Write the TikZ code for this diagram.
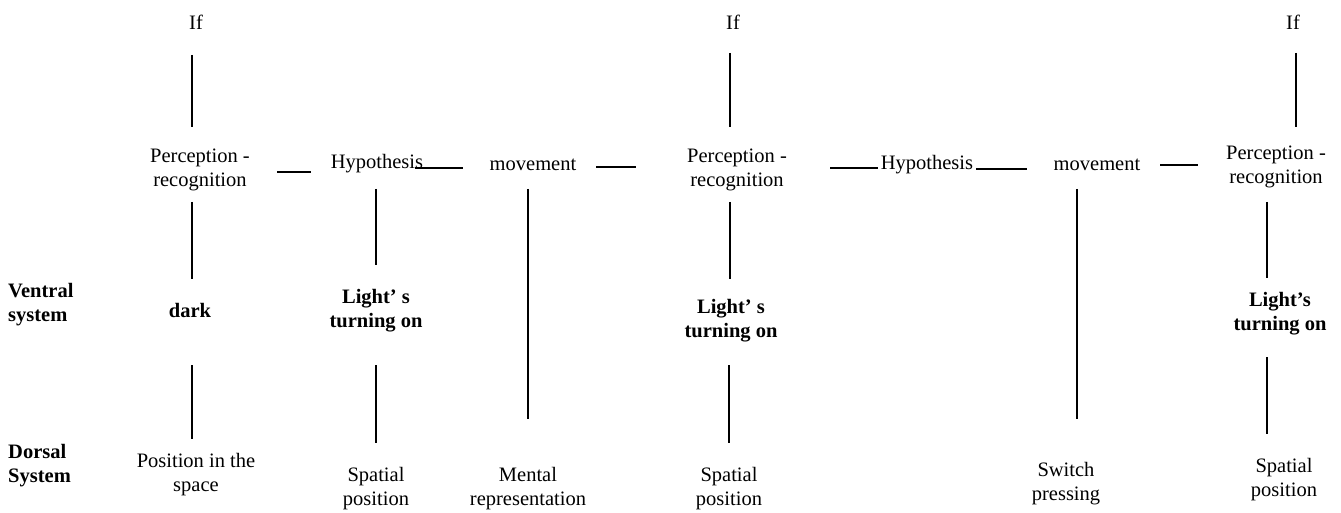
\documentclass[tikz,border=0pt]{standalone}
\usepackage{fontspec}
\setmainfont{Liberation Serif}
\begin{document}
\begin{tikzpicture}[x=1pt,y=-1pt,
  lbl/.style={font=\fontsize{20.5}{24}\selectfont, align=center, inner sep=0pt},
  bl/.style={font=\fontsize{20.5}{24}\selectfont\bfseries, align=center, inner sep=0pt},
  stroke/.style={line width=1.5pt}]
\useasboundingbox (0,0) rectangle (1341,513);

% top row
\node[lbl] (if1) at (196,22) {If};
\node[lbl] (if2) at (733,22) {If};
\node[lbl] (if3) at (1293,22) {If};

% process chain
\node[lbl] (pr1) at (200,170) {Perception -\\recognition};
\node[lbl] (hy1) at (377,164) {Hypothesis};
\node[lbl] (mv1) at (533,165) {movement};
\node[lbl] (pr2) at (737,170) {Perception -\\recognition};
\node[lbl] (hy2) at (927,165) {Hypothesis};
\node[lbl] (mv2) at (1097,165) {movement};
\node[lbl] (pr3) at (1276,167) {Perception -\\recognition};

% ventral row
\node[bl, align=left, anchor=west] (ven) at (8,305) {Ventral\\system};
\node[bl] (dk) at (190,310) {dark};
\node[bl] (lt1) at (376,311) {Light’ s\\turning on};
\node[bl] (lt2) at (731,321) {Light’ s\\turning on};
\node[bl] (lt3) at (1280,314) {Light’s\\turning on};

% dorsal row
\node[bl, align=left, anchor=west] (dor) at (8,466) {Dorsal\\System};
\node[lbl] (ps) at (196,475) {Position in the\\space};
\node[lbl] (sp1) at (376,489) {Spatial\\position};
\node[lbl] (mr) at (528,489) {Mental\\representation};
\node[lbl] (sp2) at (729,489) {Spatial\\position};
\node[lbl] (sw) at (1066,484) {Switch\\pressing};
\node[lbl] (sp3) at (1284,480) {Spatial\\position};

% horizontal links of the chain
\draw[stroke] (277,172) coordinate (h1a) -- (311,172) coordinate (h1b);
\draw[stroke] (415,168) coordinate (h2a) -- (463,168) coordinate (h2b);
\draw[stroke] (596,167) coordinate (h3a) -- (636,167) coordinate (h3b);
\draw[stroke] (830,168) coordinate (h4a) -- (878,168) coordinate (h4b);
\draw[stroke] (976,169) coordinate (h5a) -- (1027,169) coordinate (h5b);
\draw[stroke] (1160,165) coordinate (h6a) -- (1198,165) coordinate (h6b);

% verticals from "If"
\draw[stroke] (192,55) coordinate (v1a) -- (192,127) coordinate (v1b);
\draw[stroke] (730,53) coordinate (v2a) -- (730,127) coordinate (v2b);
\draw[stroke] (1296,53) coordinate (v3a) -- (1296,127) coordinate (v3b);

% verticals from the chain down
\draw[stroke] (192,202) coordinate (m1a) -- (192,279) coordinate (m1b);
\draw[stroke] (376,189) coordinate (m2a) -- (376,265) coordinate (m2b);
\draw[stroke] (528,189) coordinate (m3a) -- (528,419) coordinate (m3b);
\draw[stroke] (730,202) coordinate (m4a) -- (730,279) coordinate (m4b);
\draw[stroke] (1077,189) coordinate (m5a) -- (1077,419) coordinate (m5b);
\draw[stroke] (1267,202) coordinate (m6a) -- (1267,278) coordinate (m6b);

% verticals from ventral to dorsal
\draw[stroke] (192,365) coordinate (d1a) -- (192,439) coordinate (d1b);
\draw[stroke] (376,365) coordinate (d2a) -- (376,443) coordinate (d2b);
\draw[stroke] (729,365) coordinate (d3a) -- (729,443) coordinate (d3b);
\draw[stroke] (1267,357) coordinate (d4a) -- (1267,434) coordinate (d4b);
\end{tikzpicture}
\end{document}
